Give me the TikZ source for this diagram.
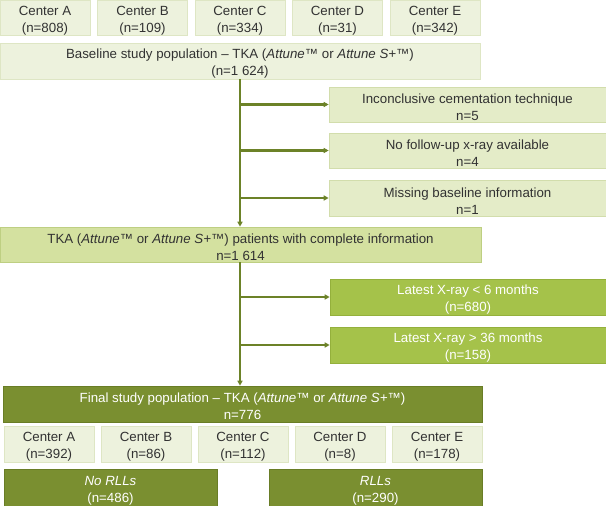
\documentclass[tikz,border=0pt]{standalone}
\usepackage{fontspec}
\setmainfont{Liberation Sans}
\usetikzlibrary{arrows.meta}
\definecolor{pale}{RGB}{237,242,221}
\definecolor{paleb}{RGB}{222,230,196}
\definecolor{excl}{RGB}{228,236,200}
\definecolor{exclb}{RGB}{210,221,172}
\definecolor{mid}{RGB}{212,225,160}
\definecolor{midb}{RGB}{190,207,130}
\definecolor{bright}{RGB}{165,194,74}
\definecolor{brightb}{RGB}{148,176,60}
\definecolor{olive}{RGB}{122,143,48}
\definecolor{oliveb}{RGB}{105,125,38}
\definecolor{linec}{RGB}{108,130,40}
\definecolor{txt}{RGB}{50,50,50}
\newcommand{\fls}{\rule{0pt}{15pt}}
\tikzset{
  x=1pt, y=-1pt,
  box/.style={rectangle, inner sep=0pt, align=center, font=\fontsize{13.3}{17}\selectfont, line width=0.6pt},
  lightbox/.style={box, fill=pale, draw=paleb, text=txt},
  exclbox/.style={box, fill=excl, draw=exclb, text=txt},
  midbox/.style={box, fill=mid, draw=midb, text=txt},
  brightbox/.style={box, fill=bright, draw=brightb, text=white},
  darkbox/.style={box, fill=olive, draw=oliveb, text=white},
  conn/.style={draw=linec, line width=2.1pt},
  arr/.style={conn, -{Triangle[length=5pt,width=5pt]}}
}
\begin{document}
\begin{tikzpicture}
\useasboundingbox (0,0) rectangle (606,506);
% top centers
\node[lightbox, minimum width=90, minimum height=35] (ta) at (45,17.5) {\fls Center A\\(n=808)};
\node[lightbox, minimum width=90, minimum height=35] (tb) at (142.5,17.5) {\fls Center B\\(n=109)};
\node[lightbox, minimum width=90, minimum height=35] (tc) at (240,17.5) {\fls Center C\\(n=334)};
\node[lightbox, minimum width=90, minimum height=35] (td) at (337.5,17.5) {\fls Center D\\(n=31)};
\node[lightbox, minimum width=90, minimum height=35] (te) at (435,17.5) {\fls Center E\\(n=342)};
% baseline
\node[lightbox, minimum width=480, minimum height=36] (base) at (240,61) {\fls Baseline study population – TKA (\textit{Attune™} or \textit{Attune S+™})\\(n=1 624)};
% exclusions
\node[exclbox, minimum width=277, minimum height=35] (ex1) at (467.5,104.5) {\fls Inconclusive cementation technique\\n=5};
\node[exclbox, minimum width=277, minimum height=35] (ex2) at (467.5,150.5) {\fls No follow-up x-ray available\\n=4};
\node[exclbox, minimum width=277, minimum height=36] (ex3) at (467.5,198) {\fls Missing baseline information\\n=1};
% complete info
\node[midbox, minimum width=481, minimum height=35] (tka) at (240.5,244.5) {\fls TKA (\textit{Attune™} or \textit{Attune S+™}) patients with complete information\\n=1 614};
% latest x-ray
\node[brightbox, minimum width=276, minimum height=36] (lx1) at (468,297) {\fls Latest X-ray < 6 months\\(n=680)};
\node[brightbox, minimum width=276, minimum height=36] (lx2) at (468,345) {\fls Latest X-ray > 36 months\\(n=158)};
% final
\node[darkbox, minimum width=479, minimum height=36] (fin) at (242.5,404) {\fls Final study population – TKA (\textit{Attune™} or \textit{Attune S+™})\\n=776};
% bottom centers
\node[lightbox, minimum width=90, minimum height=36] (ba) at (49,444) {\fls Center A\\(n=392)};
\node[lightbox, minimum width=90, minimum height=36] (bb) at (146,444) {\fls Center B\\(n=86)};
\node[lightbox, minimum width=90, minimum height=36] (bc) at (243,444) {\fls Center C\\(n=112)};
\node[lightbox, minimum width=90, minimum height=36] (bd) at (340,444) {\fls Center D\\(n=8)};
\node[lightbox, minimum width=90, minimum height=36] (be) at (437,444) {\fls Center E\\(n=178)};
% RLL
\node[darkbox, minimum width=213, minimum height=37] (norll) at (110.5,487.5) {\fls\textit{No RLLs}\\(n=486)};
\node[darkbox, minimum width=213, minimum height=37] (rll) at (375.5,487.5) {\fls\textit{RLLs}\\(n=290)};
% connectors
\draw[arr] (base.south) -- (base.south |- tka.north);
\draw[arr] (ex1.west -| base.south) -- (ex1.west);
\draw[arr] (ex2.west -| base.south) -- (ex2.west);
\draw[arr] (ex3.west -| base.south) -- (ex3.west);
\draw[arr] (base.south |- tka.south) -- (base.south |- fin.north);
\draw[arr] (lx1.west -| base.south) -- (lx1.west);
\draw[arr] (lx2.west -| base.south) -- (lx2.west);
\end{tikzpicture}
\end{document}
